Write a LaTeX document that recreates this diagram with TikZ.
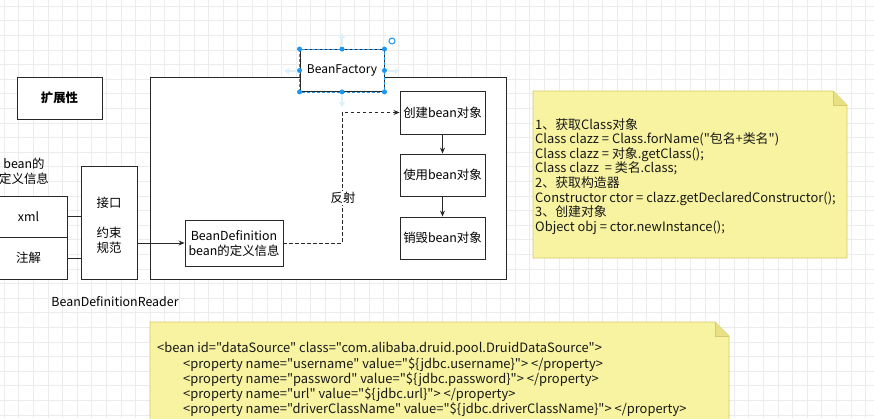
\documentclass[tikz,border=0pt]{standalone}
\usepackage{fontspec}
\setmainfont{Noto Sans CJK SC}[Ligatures=TeXOff]
\usetikzlibrary{arrows.meta}
\definecolor{notefill}{RGB}{248,243,160}
\definecolor{notedraw}{RGB}{214,200,110}
\definecolor{notefold}{RGB}{232,224,130}
\definecolor{selblue}{RGB}{30,150,240}
\definecolor{gridc}{RGB}{236,236,236}
\definecolor{boxc}{RGB}{40,40,40}
\tikzset{
  box/.style={draw=boxc, line width=0.9pt, fill=white, inner sep=0pt, font=\fontsize{12.4}{15}\selectfont, align=center},
  txt/.style={inner sep=0pt, font=\fontsize{12.4}{15}\selectfont, align=center},
  notetxt/.style={inner sep=0pt, anchor=north west, align=left, text=black!90},
  conn/.style={draw=boxc, line width=0.9pt},
  arr/.style={conn, -{Stealth[length=6pt,width=5pt]}},
  darr/.style={conn, dashed, dash pattern=on 3.5pt off 2.5pt, -{Stealth[length=6pt,width=5pt]}},
  handle/.style={circle, fill=selblue, inner sep=0pt, minimum size=5pt},
  hover/.style={draw=selblue!14, line width=2pt, -{Triangle[length=5pt,width=6pt]}},
}
\begin{document}
\begin{tikzpicture}[x=1pt,y=-1pt]
\useasboundingbox (0,0) rectangle (874,418);
\clip (0,0) rectangle (874,418);
% grid
\foreach \i in {0,...,60} {\draw[gridc, line width=0.5pt] (\i*14.6+4,0) -- (\i*14.6+4,418);}
\foreach \i in {0,...,29} {\draw[gridc, line width=0.5pt] (0,\i*14.6+6) -- (874,\i*14.6+6);}

% extensibility box
\node[box, minimum width=85pt, minimum height=42pt, font=\fontsize{12.4}{15}\selectfont\bfseries] (ext) at (59.5,98) {扩展性};

% bean definition info label
\node[txt] (beaninfo) at (24,171) {bean的\\定义信息};

% xml / annotation boxes
\node[box, minimum width=77pt, minimum height=41pt] (xml) at (28.5,216.5) {xml};
\node[box, minimum width=77pt, minimum height=42pt] (anno) at (28.5,258) {注解};

% interface box
\node[box, minimum width=56pt, minimum height=113pt] (iface) at (109,222.5) {};
\node[txt] (ifaceA) at (109,203) {接口};
\node[txt] (ifaceB) at (109,240) {约束\\规范};

\node[txt] (reader) at (115,302) {BeanDefinitionReader};

\draw[conn] (xml.east) -- (xml.east -| iface.west);
\draw[conn] (anno.east) -- (anno.east -| iface.west);

% big container
\node[box, minimum width=356pt, minimum height=202pt] (cont) at (328,178) {};

% BeanDefinition
\node[box, minimum width=98pt, minimum height=46pt] (bd) at (234,243) {BeanDefinition\\bean的定义信息};
\coordinate (iout) at (137,243);
\draw[arr] (iout) -- (bd.west);

% lifecycle boxes
\node[box, minimum width=85pt, minimum height=43pt] (create) at (442.5,112.5) {创建bean对象};
\node[box, minimum width=85pt, minimum height=42pt] (use) at (442.5,175) {使用bean对象};
\node[box, minimum width=85pt, minimum height=42pt] (destroy) at (442.5,238) {销毁bean对象};
\draw[arr] (create.south) -- (use.north);
\draw[arr] (use.south) -- (destroy.north);

% reflection dashed connector
\coordinate (c1) at (342,243);
\coordinate (c2) at (342,112.5);
\draw[darr] (bd.east) -- (c1) -- (c2) -- (create.west);
\node[txt, fill=white, inner sep=1pt] (refl) at (343,198) {反射};

% BeanFactory (selected)
\draw[hover] (342,45) -- (342,33);
\draw[hover] (296,71) -- (284,71);
\draw[hover] (388,71) -- (400,71);
\draw[hover] (342,95) -- (342,107);
\node[box, minimum width=84pt, minimum height=42pt, font=\fontsize{12}{15}\selectfont] (bf) at (342,70.5) {BeanFactory};
\draw[selblue, line width=0.8pt, dashed, dash pattern=on 3pt off 2pt] (bf.north west) rectangle (bf.south east);
\foreach \a in {north west,north,north east,west,east,south west,south,south east}
  \node[handle] at (bf.\a) {};
\draw[selblue, line width=1pt] (392,41) circle (3pt);

% note 1
\draw[notedraw, fill=notefill, line width=0.8pt] (533,91) -- (833,91) -- (847,105) -- (847,258) -- (533,258) -- cycle;
\draw[notedraw, fill=notefold, line width=0.8pt] (833,91) -- (833,105) -- (847,105);
\node[notetxt, font=\fontsize{12.9}{14.6}\selectfont] (n1) at (535,118) {1、获取Class对象\\
Class clazz = Class.forName("包名+类名")\\
Class clazz = 对象.getClass();\\
Class clazz \ = 类名.class;\\
2、获取构造器\\
Constructor ctor = clazz.getDeclaredConstructor();\\
3、创建对象\\
Object obj = ctor.newInstance();};

% note 2
\draw[notedraw, fill=notefill, line width=0.8pt] (150,322) -- (715,322) -- (729,336) -- (729,430) -- (150,430) -- cycle;
\draw[notedraw, fill=notefold, line width=0.8pt] (715,322) -- (715,336) -- (729,336);
\node[notetxt, font=\fontsize{12.9}{15.2}\selectfont] (n2) at (157,342.5) {<bean id="dataSource" class="com.alibaba.druid.pool.DruidDataSource">\\
\hspace*{26pt}<property name="username" value="\$\{jdbc.username\}"> </property>\\
\hspace*{26pt}<property name="password" value="\$\{jdbc.password\}"> </property>\\
\hspace*{26pt}<property name="url" value="\$\{jdbc.url\}"> </property>\\
\hspace*{26pt}<property name="driverClassName" value="\$\{jdbc.driverClassName\}"> </property>};
\end{tikzpicture}
\end{document}
